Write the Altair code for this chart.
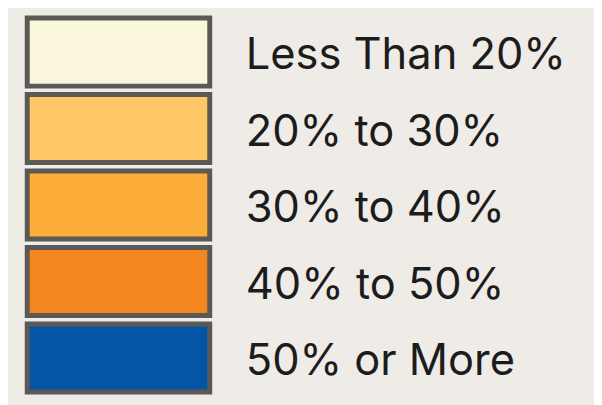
import altair as alt
import pandas as pd

categories = ["Less Than 20%", "20% to 30%", "30% to 40%", "40% to 50%", "50% or More"]
colors = ["#faf6dc", "#fec866", "#fdae3a", "#f4861f", "#0455a6"]

df = pd.DataFrame({"label": categories, "color": colors, "order": list(range(len(categories)))})

yenc = alt.Y("label:N", sort=categories, axis=None,
             scale=alt.Scale(range=[7.5, 386.5], paddingInner=0.11, paddingOuter=0))

boxes = alt.Chart(df).mark_rect(stroke="#5a5955", strokeWidth=5).encode(
    y=yenc,
    x=alt.value(19.5),
    x2=alt.value(204.5),
    color=alt.Color("color:N", scale=None, legend=None),
)

texts = alt.Chart(df).mark_text(
    align="left", baseline="alphabetic", dy=17.5,
    font="Inter", fontSize=44, color="#1c1c1c"
).encode(
    y=yenc,
    x=alt.value(241),
    text="label:N",
)

chart = alt.layer(boxes, texts).properties(
    width=594, height=397, autosize=alt.AutoSizeParams(type="none"), padding=0,
    background="#efece8",
).configure_view(stroke=None, fill="#efece8")

chart.save("out.html", embed_options={"renderer": "svg", "actions": False})
